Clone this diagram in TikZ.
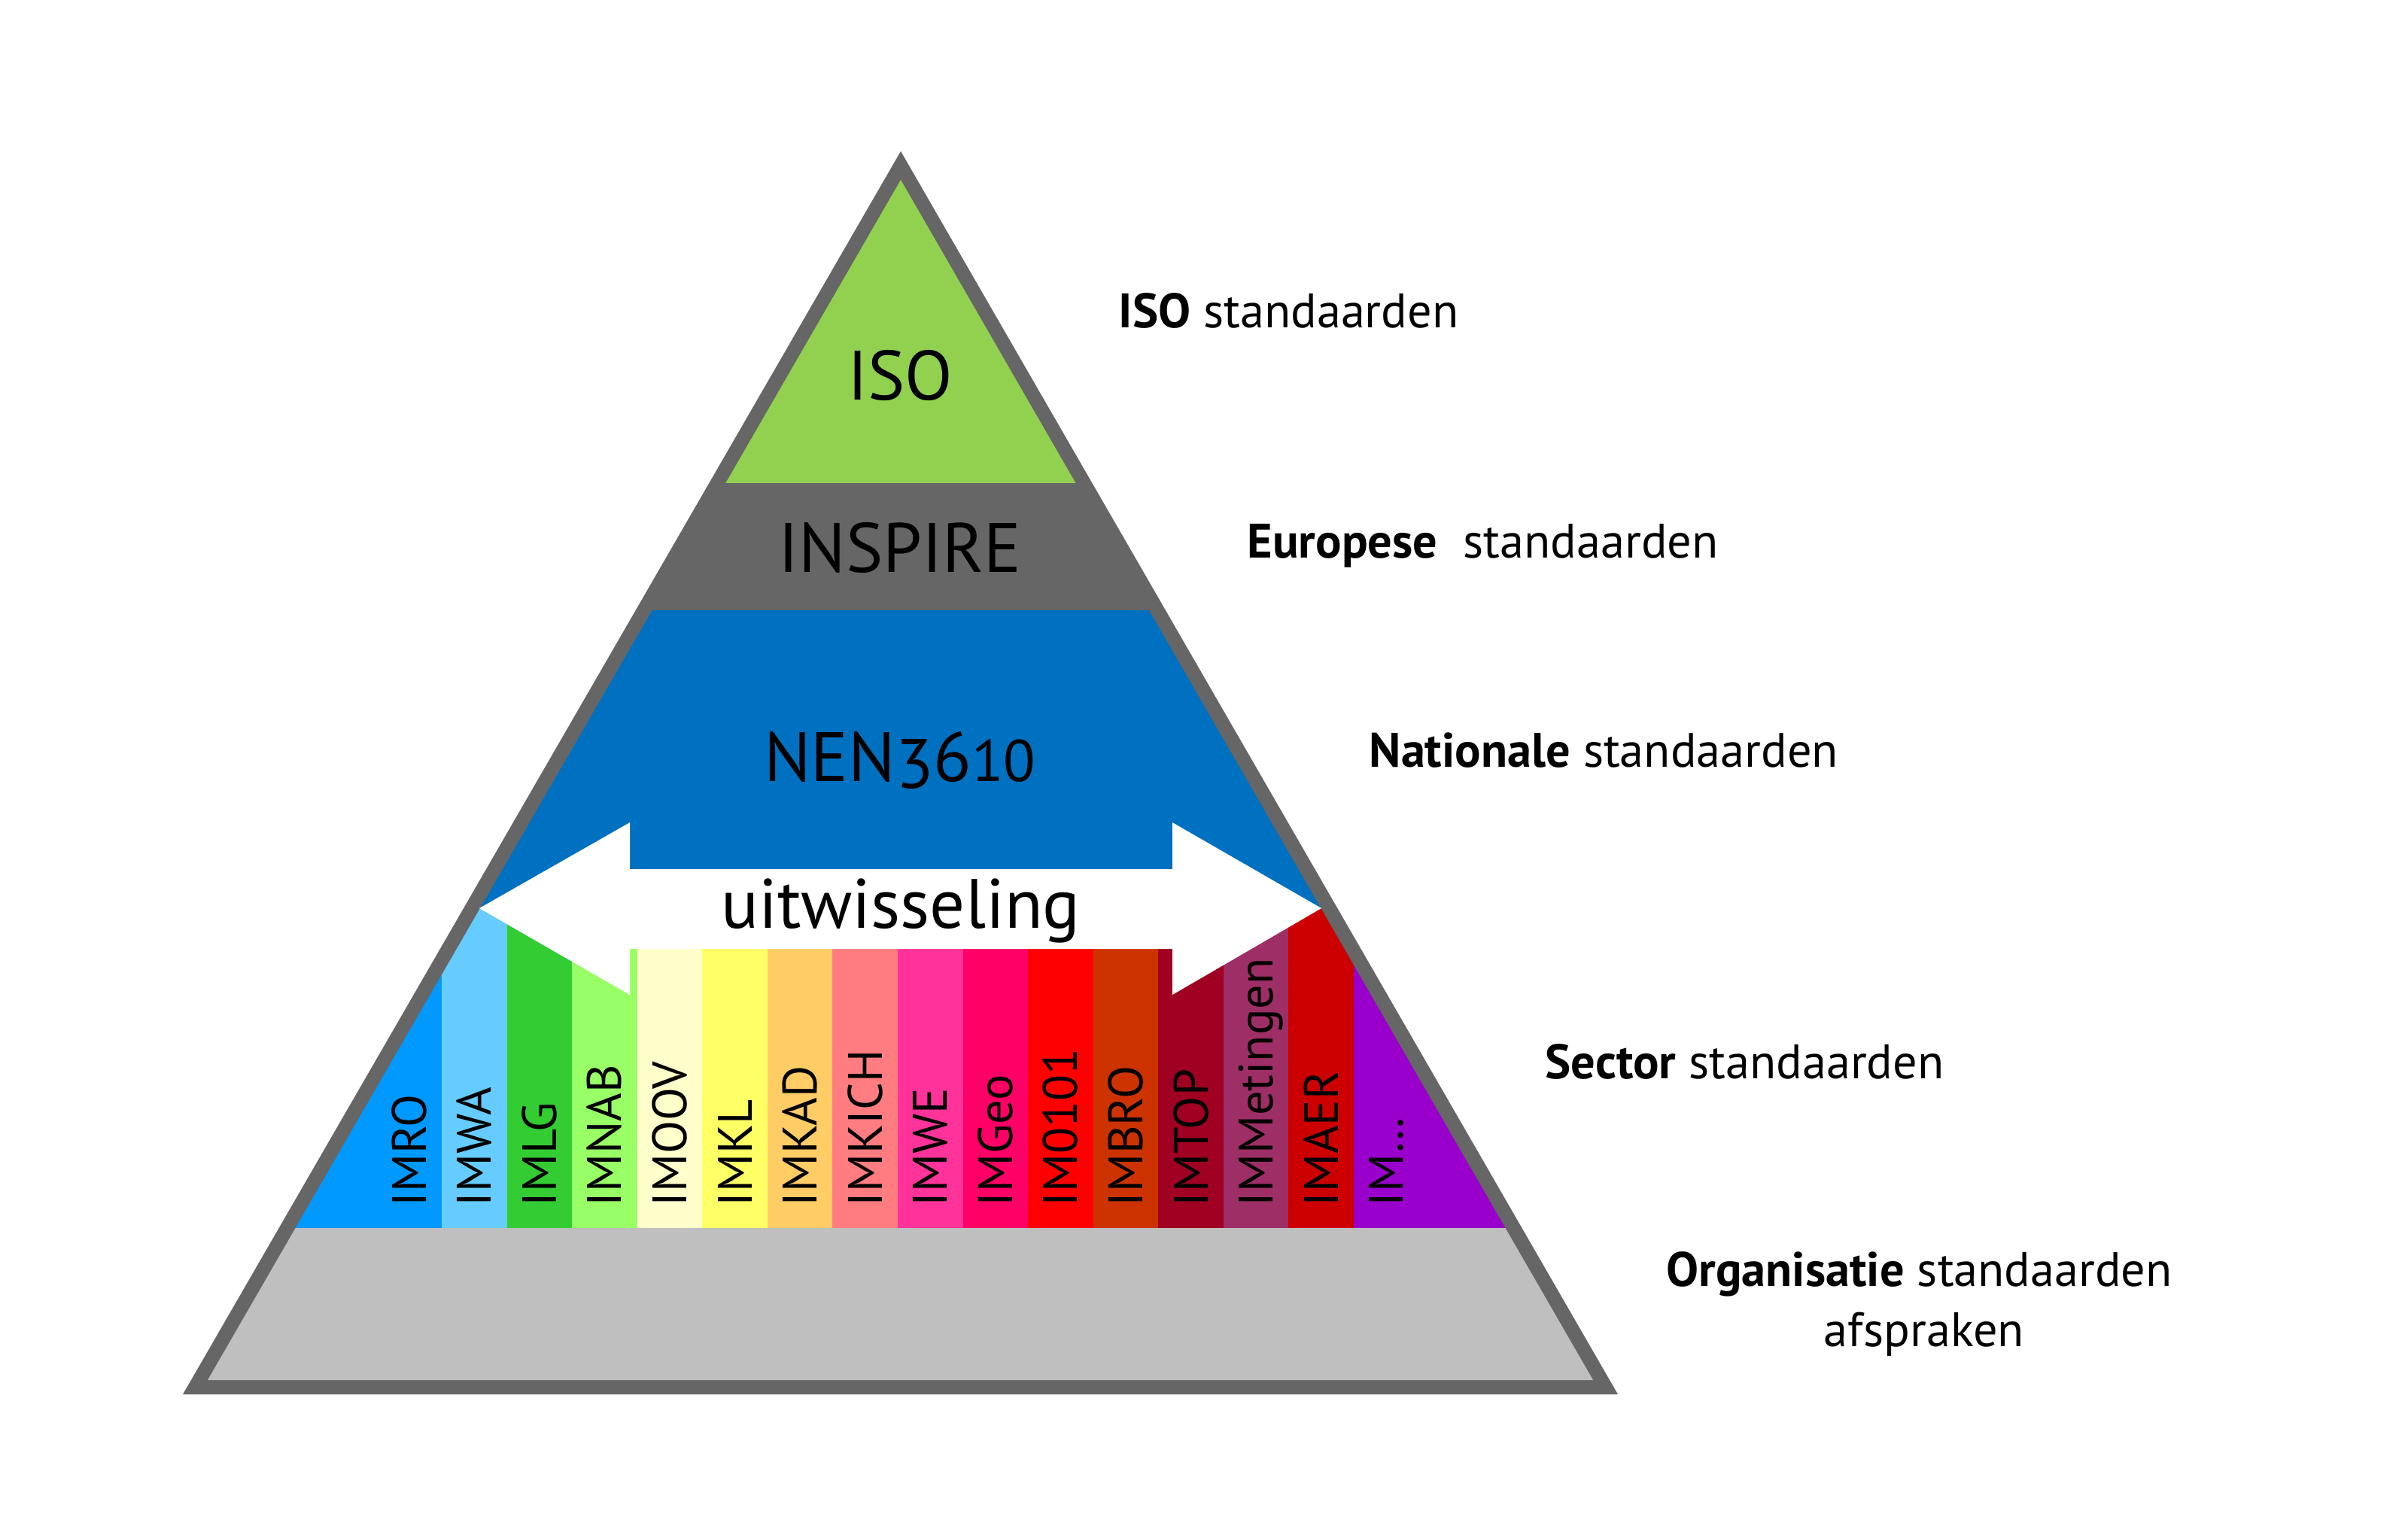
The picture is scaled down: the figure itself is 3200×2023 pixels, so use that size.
\documentclass[tikz,border=0pt]{standalone}
\usepackage{fontspec}
\setmainfont{PT Sans}
\definecolor{bordergray}{HTML}{666666}
\definecolor{isogreen}{HTML}{92D050}
\definecolor{nenblue}{HTML}{0070C0}
\definecolor{orggray}{HTML}{BFBFBF}
\definecolor{cimro}{HTML}{0099FF}
\definecolor{cimwa}{HTML}{66CCFF}
\definecolor{cimlg}{HTML}{33CC33}
\definecolor{cimnab}{HTML}{99FF66}
\definecolor{cimoov}{HTML}{FFFFCC}
\definecolor{cimkl}{HTML}{FFFF66}
\definecolor{cimkad}{HTML}{FFCC66}
\definecolor{cimkich}{HTML}{FF7C80}
\definecolor{cimwe}{HTML}{FF3399}
\definecolor{cimgeo}{HTML}{FF0066}
\definecolor{cimo}{HTML}{FF0000}
\definecolor{cimbro}{HTML}{CC3300}
\definecolor{cimtop}{HTML}{A00021}
\definecolor{cimmet}{HTML}{9E2F66}
\definecolor{cimaer}{HTML}{CC0000}
\definecolor{cimx}{HTML}{9900CC}
\tikzset{
  pyrlabel/.style={inner sep=0pt, anchor=base, font=\fontsize{26.4}{30}\selectfont, text=black},
  stripelabel/.style={inner sep=0pt, anchor=base west, rotate=90, font=\fontsize{18.3}{22}\selectfont, text=black},
  rlabel/.style={inner sep=0pt, anchor=base west, font=\fontsize{18.3}{22}\selectfont, text=black}
}
\begin{document}
\begin{tikzpicture}[x=0.01cm,y=-0.01cm]
\useasboundingbox (0,0) rectangle (3200,2023);
\fill[white] (0,0) rectangle (3200,2023);
% outer border
\fill[bordergray] (1197,201) -- (243,1853) -- (2150,1853) -- cycle;
\begin{scope}
  \clip (1197,239) -- (276,1834) -- (2117,1834) -- cycle;
  \fill[isogreen] (200,150) rectangle (2200,642);
  \fill[bordergray] (200,642) rectangle (2200,811);
  \fill[nenblue] (200,811) rectangle (2200,1207);
  \foreach \col [count=\i from 0] in {cimro,cimwa,cimlg,cimnab,cimoov,cimkl,cimkad,cimkich,cimwe,cimgeo,cimo,cimbro,cimtop,cimmet,cimaer,cimx} {
    \pgfmathsetmacro\xl{\i==0 ? 200 : 500.43+\i*86.57}
    \pgfmathsetmacro\xr{\i==15 ? 2200 : 500.43+(\i+1)*86.57}
    \fill[\col] (\xl,1207) rectangle (\xr,1632);
  }
  \fill[orggray] (200,1632) rectangle (2200,1900);
\end{scope}
% exchange arrow
\fill[white] (637,1207) -- (837,1093) -- (837,1155) -- (1558,1155) -- (1558,1093)
  -- (1756,1207) -- (1558,1322) -- (1558,1261) -- (837,1261) -- (837,1322) -- cycle;
% pyramid labels
\node[pyrlabel] (iso) at (1196,531) {ISO};
\node[pyrlabel] (inspire) at (1196,760) {INSPIRE};
\node[pyrlabel] (nen) at (1196,1038) {NEN\raisebox{-0.09cm}{3}6{\fontsize{22.2}{26}\selectfont 10}};
\node[pyrlabel] (uitw) at (1197,1233) {uitwisseling};
% stripe labels
\foreach \lab [count=\i from 0] in {IMRO,IMWA,IMLG,IMNAB,IMOOV,IMKL,IMKAD,IMKICH,IMWE,IMGeo,IM0101,IMBRO,IMTOP,IMMetingen,IMAER,IM\ldots} {
  \node[stripelabel] (lab\i) at ({543.7+\i*86.57+22.5},1604) {\lab};
}
% right labels
\node[rlabel] (riso) at (1486,435) {\textbf{ISO} standaarden};
\node[rlabel] (reur) at (1657,741) {\textbf{Europese}\ \ standaarden};
\node[rlabel] (rnat) at (1819,1019) {\textbf{Nationale} standaarden};
\node[rlabel] (rsec) at (2053,1433) {\textbf{Sector} standaarden};
\node[rlabel] (rorg) at (2214,1709) {\textbf{Organisatie} standaarden};
\node[rlabel, anchor=base] (rafs) at (2557,1789) {afspraken};
\end{tikzpicture}
\end{document}
